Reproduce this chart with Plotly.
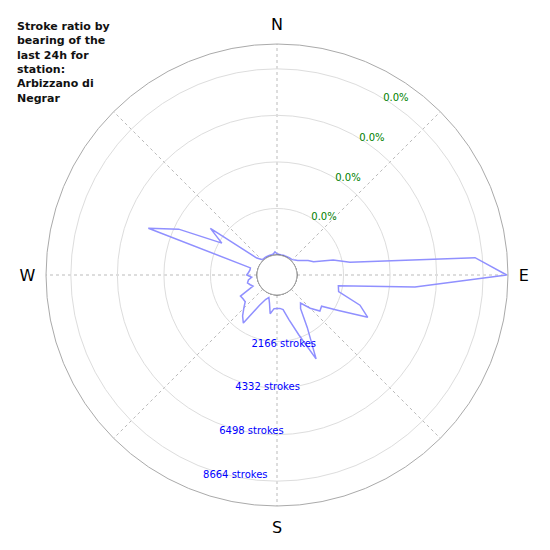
import plotly.graph_objects as go

# Stroke counts by bearing (degrees, 5 degree bins)
bearings = list(range(0, 360, 5))
strokes = [
    60, 40, 30, 30, 40, 30, 40, 50, 60, 80,          # 0 - 45
    158, 247, 419, 666, 880, 1778, 2518, 8321,       # 50 - 85
    9760, 5515, 1969, 2038, 3179, 3728, 2374, 1601,  # 90 - 125
    1675, 1256, 773, 982, 1885, 3374, 2029, 1215,    # 130 - 165
    700, 630, 630, 640, 900, 420, 180, 330,          # 170 - 205
    694, 1800, 1559, 1252, 1000, 1000, 1033, 300,    # 210 - 245
    395, 490, 420, 250, 480, 400, 350, 350,          # 250 - 285
    5440, 4119, 2034, 2853, 293, 90, 50, 50,         # 290 - 325
    50, 50, 50, 50, 60, 150,                         # 330 - 355
]

radial_ticks = [2166, 4332, 6498, 8664]
stroke_labels = [f"{v} strokes" for v in radial_ticks]
pct_labels = ["0.0%", "0.0%", "0.0%", "0.0%"]
r_max = 9820

compass_vals = [0, 45, 90, 135, 180, 225, 270, 315]
compass_text = ["N", "", "E", "", "S", "", "W", ""]

title_lines = ["Stroke ratio by", "bearing of the", "last 24h for", "station:", "Arbizzano di", "Negrar"]

fig = go.Figure()

# stroke outline (closed)
fig.add_trace(go.Scatterpolar(
    r=strokes + strokes[:1], theta=bearings + bearings[:1],
    mode="lines", line=dict(color="#9090ff", width=1.5),
    hoverinfo="skip", showlegend=False,
))

# inner circle around the station
ring = list(range(0, 361, 5))
fig.add_trace(go.Scatterpolar(
    r=[0] * len(ring), theta=ring, mode="lines",
    line=dict(color="#222222", width=1), hoverinfo="skip", showlegend=False,
))

# percentage labels (NE) and stroke labels (SSW)
fig.add_trace(go.Scatterpolar(
    r=radial_ticks, theta=[31] * 4, mode="text", text=pct_labels,
    textposition="middle right", textfont=dict(color="green", size=10),
    hoverinfo="skip", showlegend=False,
))
fig.add_trace(go.Scatterpolar(
    r=[v + 330 for v in radial_ticks], theta=[200.3] * 4, mode="text", text=stroke_labels,
    textposition="middle right", textfont=dict(color="blue", size=10),
    hoverinfo="skip", showlegend=False,
))

fig.add_annotation(
    text="<b>" + "<br>".join(title_lines) + "</b>",
    xref="paper", yref="paper", x=-0.0671, y=1.0562,
    xanchor="left", yanchor="top", align="left", showarrow=False,
    font=dict(size=11, color="#111111"),
)

# page body adds an 8px offset, so the margins are shifted to compensate
fig.update_layout(
    width=550, height=550,
    margin=dict(l=38, r=50, t=36, b=52, autoexpand=False),
    paper_bgcolor="white",
    font=dict(family="DejaVu Sans", color="black"),
    polar=dict(
        domain=dict(x=[0, 1], y=[0, 1]),
        bgcolor="white",
        hole=0.0866,
        radialaxis=dict(
            range=[0, r_max], tickvals=radial_ticks, showticklabels=False,
            ticks="", showline=False, gridcolor="#dddddd", gridwidth=1,
        ),
        angularaxis=dict(
            rotation=90, direction="clockwise",
            tickvals=compass_vals, ticktext=compass_text,
            tickfont=dict(size=16, color="black"),
            ticks="outside", ticklen=7, tickcolor="rgba(0,0,0,0)",
            showline=True, linecolor="#aaaaaa", linewidth=1,
            gridcolor="#bbbbbb", griddash="dot", gridwidth=1,
        ),
    ),
)

fig.write_html("out.html")
